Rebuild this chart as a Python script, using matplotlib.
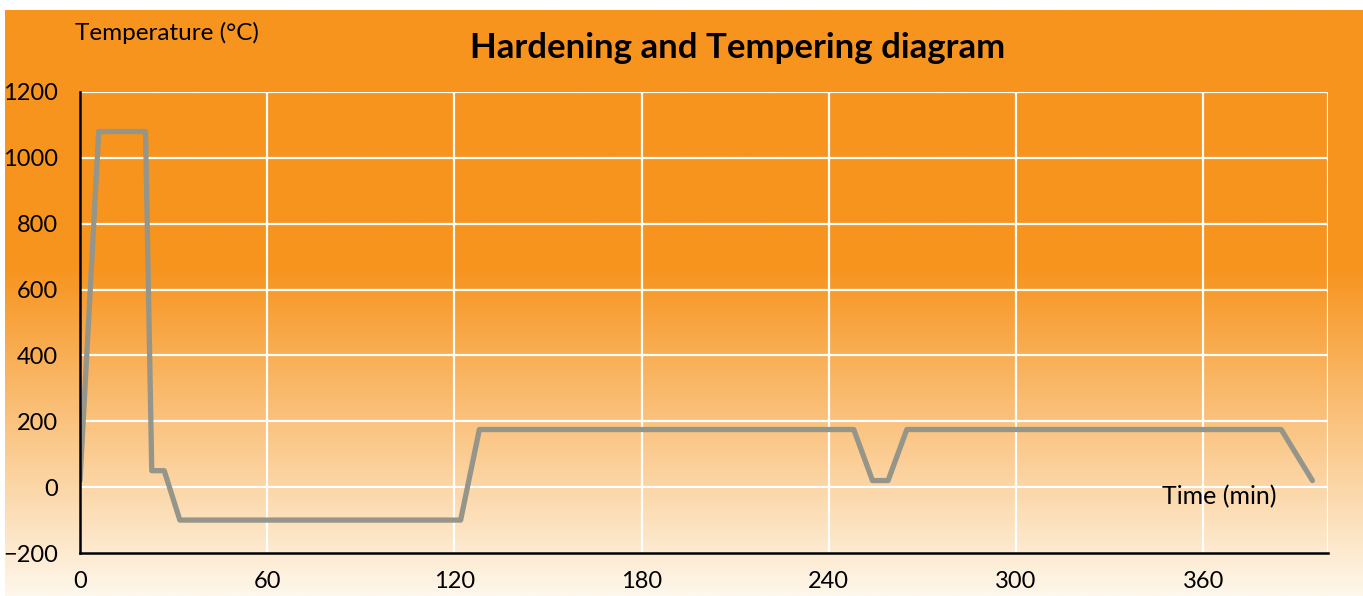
import matplotlib.pyplot as plt
import numpy as np

# heat treatment cycle, time in minutes and temperature in deg C
time_min = [0, 6, 21, 23, 27, 32, 122, 128, 248, 254, 259, 265, 385, 395]
temp_c = [20, 1080, 1080, 50, 50, -100, -100, 175, 175, 20, 20, 175, 175, 20]

x_ticks = [0, 60, 120, 180, 240, 300, 360]
y_ticks = [-200, 0, 200, 400, 600, 800, 1000, 1200]

plt.rcParams['font.family'] = ['Lato', 'DejaVu Sans']

W, H = 1363, 596
fig = plt.figure(figsize=(W / 100, H / 100), dpi=100)
fig.patch.set_facecolor('white')

# orange background with gradient towards the bottom
bg = fig.add_axes([5 / W, 0, 1 - 5 / W, 1 - 10 / H])
bg.set_axis_off()
top = np.array([247, 148, 30]) / 255
bottom = np.array([254, 247, 235]) / 255
rows = np.linspace(0, 1, 300)
frac = np.clip((rows - 0.44) / 0.56, 0, 1)
grad = top[None, :] * (1 - frac[:, None]) + bottom[None, :] * frac[:, None]
bg.imshow(grad[:, None, :], aspect='auto', extent=[0, 1, 0, 1])

ax = fig.add_axes([80 / W, 1 - 553 / H, (1328 - 80) / W, (553 - 92) / H])
ax.patch.set_alpha(0)
ax.plot(time_min, temp_c, color='#96958a', lw=3.8, solid_joinstyle='round',
        solid_capstyle='round', zorder=3)

ax.set_xlim(0, 400)
ax.set_ylim(-200, 1200)
ax.set_xticks(x_ticks)
ax.set_yticks(y_ticks)
ax.grid(True, color='white', lw=1.6)
ax.axvline(400, color='white', lw=1.6)
ax.tick_params(length=0, labelsize=17)
ax.tick_params(axis='y', pad=16)
ax.tick_params(axis='x', pad=13)
for s in ['top', 'right']:
    ax.spines[s].set_visible(False)
for s in ['left', 'bottom']:
    ax.spines[s].set_color('black')
    ax.spines[s].set_linewidth(1.8)
    ax.spines[s].set_zorder(4)

fig.text(738 / W, 1 - 48 / H, 'Hardening and Tempering diagram',
         fontsize=25, fontweight='bold', ha='center', va='center')
fig.text(75 / W, 1 - 33 / H, 'Temperature (°C)', fontsize=17.5,
         ha='left', va='center')
fig.text(1276 / W, 1 - 497 / H, 'Time (min)', fontsize=18,
         ha='right', va='center')

fig.savefig('out.png', dpi=100)
